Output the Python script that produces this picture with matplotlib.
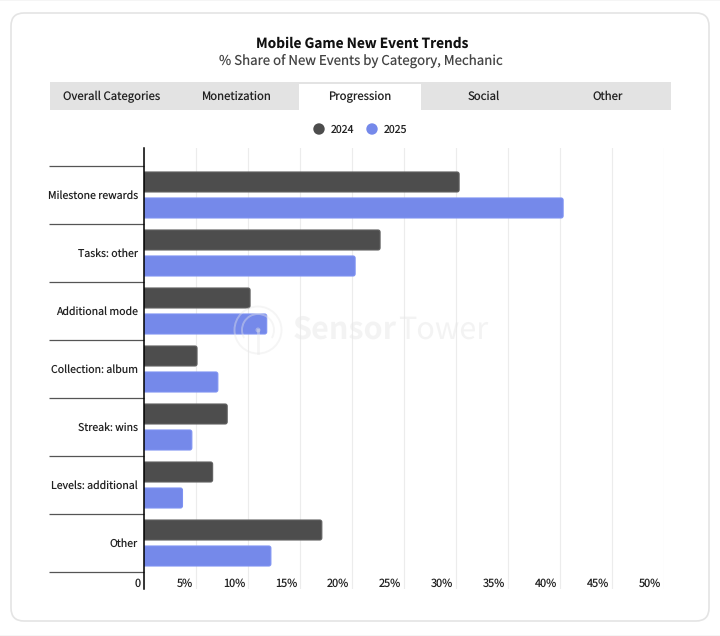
import matplotlib
matplotlib.use('Agg')
import matplotlib.pyplot as plt
import numpy as np
from matplotlib.patches import FancyBboxPatch, Rectangle, Circle, Arc
from matplotlib.transforms import ScaledTranslation

plt.rcParams['font.family'] = ['Noto Sans CJK SC', 'DejaVu Sans']
plt.rcParams['text.hinting'] = 'no_hinting'
plt.rcParams['text.hinting_factor'] = 1

categories = ['Milestone rewards', 'Tasks: other', 'Additional mode', 'Collection: album',
              'Streak: wins', 'Levels: additional', 'Other']
share_2024 = [30.3, 22.7, 10.2, 5.1, 8.0, 6.6, 17.1]
share_2025 = [40.3, 20.3, 11.8, 7.1, 4.6, 3.7, 12.2]
xticks = [0, 5, 10, 15, 20, 25, 30, 35, 40, 45, 50]
xtick_labels = ['0', '5%', '10%', '15%', '20%', '25%', '30%', '35%', '40%', '45%', '50%']
tabs = ['Overall Categories', 'Monetization', 'Progression', 'Social', 'Other']
tab_centers = [112, 236, 360, 484, 608]

DARK = '#4d4d4d'
BLUE = '#7589ea'
W, H = 720, 636

fig = plt.figure(figsize=(W / 100, H / 100), dpi=100, facecolor='white')

# ----------------------------
# overlay in pixel coordinates: card, header, tabs, legend
# ----------------------------
bg = fig.add_axes([0, 0, 1, 1], zorder=0)
bg.set_xlim(0, W)
bg.set_ylim(H, 0)
bg.axis('off')

bg.add_patch(Rectangle((0, 0), W, 1, fc='#f5f5f5', ec='none'))
bg.add_patch(Rectangle((0, 635), W, 1, fc='#f5f5f5', ec='none'))
bg.add_patch(FancyBboxPatch((11, 13), 698, 608, boxstyle='round,pad=0,rounding_size=13',
                            fc='white', ec='#e4e4e4', lw=1.2))

bg.text(362, 44, 'Mobile Game New Event Trends', ha='center', va='center',
        fontsize=9.85, fontweight='bold', color='#111111')
bg.text(361, 61, '% Share of New Events by Category, Mechanic', ha='center', va='center',
        fontsize=9.55, fontweight='light', color='#444444')

bg.add_patch(Rectangle((49.5, 82), 621.5, 28, fc='#e3e3e3', ec='none'))
bg.add_patch(Rectangle((299, 84), 122, 26, fc='white', ec='none'))
for name, cx in zip(tabs, tab_centers):
    bg.text(cx, 96.5, name, ha='center', va='center', fontsize=8.2, color='#222222')

bg.add_patch(Circle((319, 129), 5.7, fc=DARK, ec='none'))
bg.add_patch(Circle((372, 129), 5.7, fc=BLUE, ec='none'))
bg.text(331, 130, '2024', ha='left', va='center', fontsize=7.6, color='#222222')
bg.text(383.5, 130, '2025', ha='left', va='center', fontsize=7.6, color='#222222')

# ----------------------------
# bars
# ----------------------------
ax = fig.add_axes([144 / W, 1 - 589 / H, 520 / W, 441 / H], zorder=1)
ax.patch.set_alpha(0)
ax.set_xlim(0, 50)
ax.set_ylim(6.793, -0.81)

for spine in ['top', 'right', 'bottom']:
    ax.spines[spine].set_visible(False)
ax.spines['left'].set_color('black')
ax.spines['left'].set_linewidth(1.1)
ax.spines['left'].set_zorder(5)

ax.set_xticks(xticks)
ax.set_xticklabels(xtick_labels)
ax.grid(axis='x', color='#ececec', lw=0.8)
ax.set_axisbelow(True)
ax.tick_params(axis='x', length=0, pad=-8.3, labelsize=7.9, labelcolor='#222222')
for lab in ax.get_xticklabels():
    lab.set_ha('right')
    lab.set_transform(lab.get_transform() + ScaledTranslation(-2.2 / 72, 0, fig.dpi_scale_trans))

y = np.arange(len(categories))
ax.set_yticks(y)
ax.set_yticklabels(categories)
ax.tick_params(axis='y', which='major', length=0, pad=4.2, labelsize=7.6, labelcolor='#222222')
ax.set_yticks(np.arange(len(categories) + 1) - 0.5, minor=True)
ax.tick_params(axis='y', which='minor', length=68.6, width=0.9, color='#555555')

bar_h = 20 / 58
aspect = 10.4 / 58


def rounded_bars(vals, offset, color, edge):
    for yi, v in zip(y, vals):
        # starts left of zero so only the far end shows rounded, axes clip the rest
        ax.add_patch(FancyBboxPatch((-1, yi + offset - bar_h / 2), v + 1, bar_h,
                                    boxstyle='round,pad=0,rounding_size=0.2',
                                    mutation_aspect=aspect, fc=color, ec=edge, lw=0.8,
                                    zorder=3))


rounded_bars(share_2024, -13 / 58, DARK, '#606060')
rounded_bars(share_2025, 13 / 58, BLUE, '#7e92f2')

# ----------------------------
# watermark
# ----------------------------
mark = fig.add_axes([0, 0, 1, 1], zorder=2)
mark.set_xlim(0, W)
mark.set_ylim(H, 0)
mark.axis('off')
wm = '#e8e8e8'
mark.add_patch(Circle((258, 330), 23.5, fc='none', ec=wm, lw=1.4, alpha=0.4))
mark.add_patch(Arc((258, 330), 32, 32, theta1=150, theta2=30, ec=wm, lw=1.4, alpha=0.4))
mark.add_patch(Circle((258, 330), 2.5, fc=wm, ec='none', alpha=0.4))
mark.plot([258, 258], [330, 353], color=wm, lw=2, alpha=0.4)
mark.text(293, 330, 'Sensor', ha='left', va='center', fontsize=22, fontweight='bold',
          color=wm, alpha=0.5)
mark.text(398, 330, 'Tower', ha='left', va='center', fontsize=22, fontweight='light',
          color=wm, alpha=0.5)

fig.savefig('out.png', dpi=100)
